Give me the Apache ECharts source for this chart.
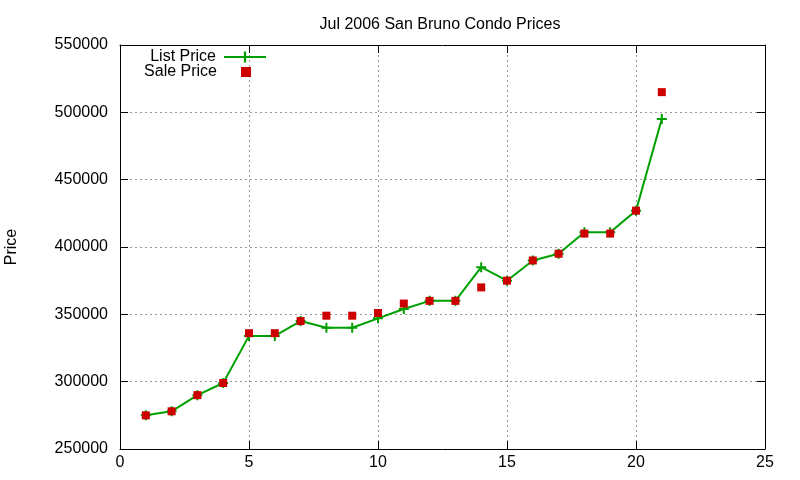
<!DOCTYPE html>
<html>
<head>
<meta charset="utf-8">
<script src="https://cdn.jsdelivr.net/npm/echarts@6/dist/echarts.min.js"></script>
<style>
  html, body { margin: 0; padding: 0; background: #fff; }
  #chart { width: 800px; height: 480px; }
</style>
</head>
<body>
<div id="chart"></div>
<script>
// data
var days = [1, 2, 3, 4, 5, 6, 7, 8, 9, 10, 11, 12, 13, 14, 15, 16, 17, 18, 19, 20, 21];
var listPrice = [275000, 278000, 290000, 299000, 334000, 334000, 345000, 340000, 340000, 347000, 354000,
  360000, 360000, 385000, 375000, 390000, 395000, 411000, 411000, 427000, 495000];
var salePrice = [275000, 278000, 290000, 299000, 336000, 336000, 345000, 349000, 349000, 351000,
  358000, 360000, 360000, 370000, 375000, 390000, 395000, 410000, 410000, 427000, 515000];

var font = "Liberation Sans, Arial, sans-serif";
var plus = "path://M4,0h2v4h4v2h-4v4h-2v-4h-4v-2h4z";

var chart = echarts.init(document.getElementById("chart"));

// shared look for all four sides of the box
function axisBase(pos) {
  return {
    type: "value",
    position: pos,
    axisLine: { show: true, onZero: false, lineStyle: { color: "#000", width: 1 } },
    axisTick: { show: true, inside: true, length: 8, lineStyle: { color: "#000" } },
    splitLine: { show: false }
  };
}

var xBottom = axisBase("bottom");
xBottom.min = 0; xBottom.max = 25; xBottom.interval = 5;
xBottom.axisLabel = { color: "#000", fontSize: 16, fontFamily: font, margin: 6 };
xBottom.splitLine = { show: true, lineStyle: { color: "#999", type: [2, 3], width: 1 } };

var xTop = axisBase("top");
xTop.min = 0; xTop.max = 25; xTop.interval = 5;
xTop.axisLabel = { show: false };

var yLeft = axisBase("left");
yLeft.min = 250000; yLeft.max = 550000; yLeft.interval = 50000;
yLeft.axisLabel = {
  color: "#000", fontSize: 16, fontFamily: font, margin: 12,
  formatter: function (v) { return String(v); }
};
yLeft.splitLine = { show: true, lineStyle: { color: "#999", type: [2, 3], width: 1 } };
yLeft.name = "Price";
yLeft.nameLocation = "middle";
yLeft.nameGap = 100;
yLeft.nameTextStyle = { color: "#000", fontSize: 16, fontFamily: font };

var yRight = axisBase("right");
yRight.min = 250000; yRight.max = 550000; yRight.interval = 50000;
yRight.axisLabel = { show: false };

var option = {
  animation: false,
  backgroundColor: "#fff",
  title: {
    text: "Jul 2006 San Bruno Condo Prices",
    left: 435,
    textAlign: "center",
    top: 12,
    textStyle: { color: "#000", fontSize: 16, fontWeight: "normal", fontFamily: font }
  },
  legend: [
    {
      data: ["List Price"],
      right: 533,
      top: 49,
      padding: 0,
      align: "right",
      itemWidth: 42,
      itemHeight: 14,
      textStyle: { color: "#000", fontSize: 16, fontFamily: font, padding: [0, 3, 0, 0] }
    },
    {
      data: [{ name: "Sale Price", icon: "rect" }],
      right: 549,
      top: 64,
      padding: 0,
      align: "right",
      itemWidth: 10,
      itemHeight: 10,
      textStyle: { color: "#000", fontSize: 16, fontFamily: font, padding: [0, 19, 0, 0] }
    }
  ],
  grid: { left: 120, right: 35, top: 45, bottom: 31, containLabel: false, outerBoundsMode: "none" },
  xAxis: [xBottom, xTop],
  yAxis: [yLeft, yRight],
  series: [
    {
      name: "List Price",
      type: "line",
      data: days.map(function (d, i) { return [d, listPrice[i]]; }),
      symbol: plus,
      symbolSize: 10,
      showAllSymbol: true,
      lineStyle: { color: "#00a000", width: 2 },
      itemStyle: { color: "#00a000" },
      z: 3
    },
    {
      name: "Sale Price",
      type: "scatter",
      data: days.map(function (d, i) { return [d, salePrice[i]]; }),
      symbol: "rect",
      symbolSize: 8,
      itemStyle: { color: "#cc0000", opacity: 1 },
      z: 4
    }
  ]
};

chart.setOption(option);
</script>
</body>
</html>
